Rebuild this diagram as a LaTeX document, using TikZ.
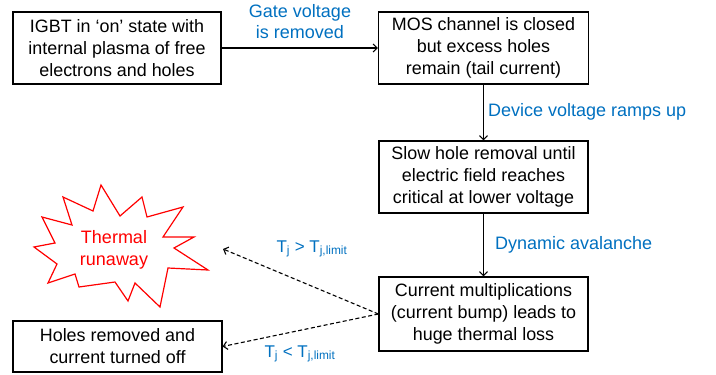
\documentclass[tikz,border=0pt]{standalone}
\usepackage{fontspec}
\setmainfont{Liberation Sans}
\usetikzlibrary{arrows.meta}
\definecolor{lblue}{RGB}{0,112,192}
\definecolor{lred}{RGB}{255,0,0}
\tikzset{
  box/.style={draw=black, line width=1.2pt, inner sep=0pt, align=center,
    font=\fontsize{17.9}{22}\selectfont},
  conn/.style={line width=1.1pt, -{Straight Barb[length=4pt,width=8pt,line width=1.1pt]}},
  dconn/.style={conn, dashed, dash pattern=on 4pt off 2.5pt},
  lbl/.style={text=lblue, inner sep=0pt, align=center, font=\fontsize{18}{21}\selectfont},
  tlbl/.style={text=lblue, inner sep=0pt, align=center, font=\fontsize{17}{21}\selectfont},
  burst/.style={draw=lred, line width=1.2pt, line join=miter},
  bursttext/.style={text=lred, inner sep=0pt, align=center, font=\fontsize{18}{22}\selectfont}
}
\begin{document}
\begin{tikzpicture}[x=1pt,y=-1pt]
\useasboundingbox (0,0) rectangle (716,375);
\node[box, minimum width=208pt, minimum height=72pt] (b1) at (117,48)
  {IGBT in ‘on’ state with\\internal plasma of free\\electrons and holes};
\node[box, minimum width=210pt, minimum height=72pt] (b2) at (483.5,48)
  {MOS channel is closed\\but excess holes\\remain (tail current)};
\node[box, minimum width=209pt, minimum height=72pt] (b3) at (483.5,177)
  {Slow hole removal until\\electric field reaches\\critical at lower voltage};
\node[box, minimum width=209pt, minimum height=74pt] (b4) at (483.5,314)
  {Current multiplications\\(current bump) leads to\\huge thermal loss};
\node[box, minimum width=209pt, minimum height=51pt] (b5) at (117.5,346.5)
  {Holes removed and\\current turned off};

\draw[burst] (101,185) -- (120,216) -- (142,197) -- (147,217) -- (183,207)
  -- (163,237) -- (194,237) -- (174,248) -- (208,270) -- (168,268)
  -- (160,307) -- (135,283) -- (128,301) -- (115,282) -- (79,287)
  -- (75,274) -- (48,283) -- (57,264) -- (34,247) -- (55,243)
  -- (42,217) -- (72,225) -- (63,197) -- (93,211) -- cycle;
\node[bursttext] (runaway) at (114,250) {Thermal\\runaway};

\coordinate (tipA) at (223,249);

\draw[conn] (b1) -- (b2);
\draw[conn] (b2) -- (b3);
\draw[conn] (b3) -- (b4);
\draw[dconn] (b4.west) -- (tipA);
\draw[dconn] (b4.west) -- (b5.east);

\node[lbl] (l1) at (300,22) {Gate voltage\\is removed};
\node[lbl, anchor=west] (l2) at (488,112) {Device voltage ramps up};
\node[lbl, anchor=west] (l3) at (495,245) {Dynamic avalanche};
\node[tlbl] (l4) at (312,249) {T\textsubscript{j} > T\textsubscript{j,limit}};
\node[tlbl] (l5) at (300,354) {T\textsubscript{j} < T\textsubscript{j,limit}};
\end{tikzpicture}
\end{document}
